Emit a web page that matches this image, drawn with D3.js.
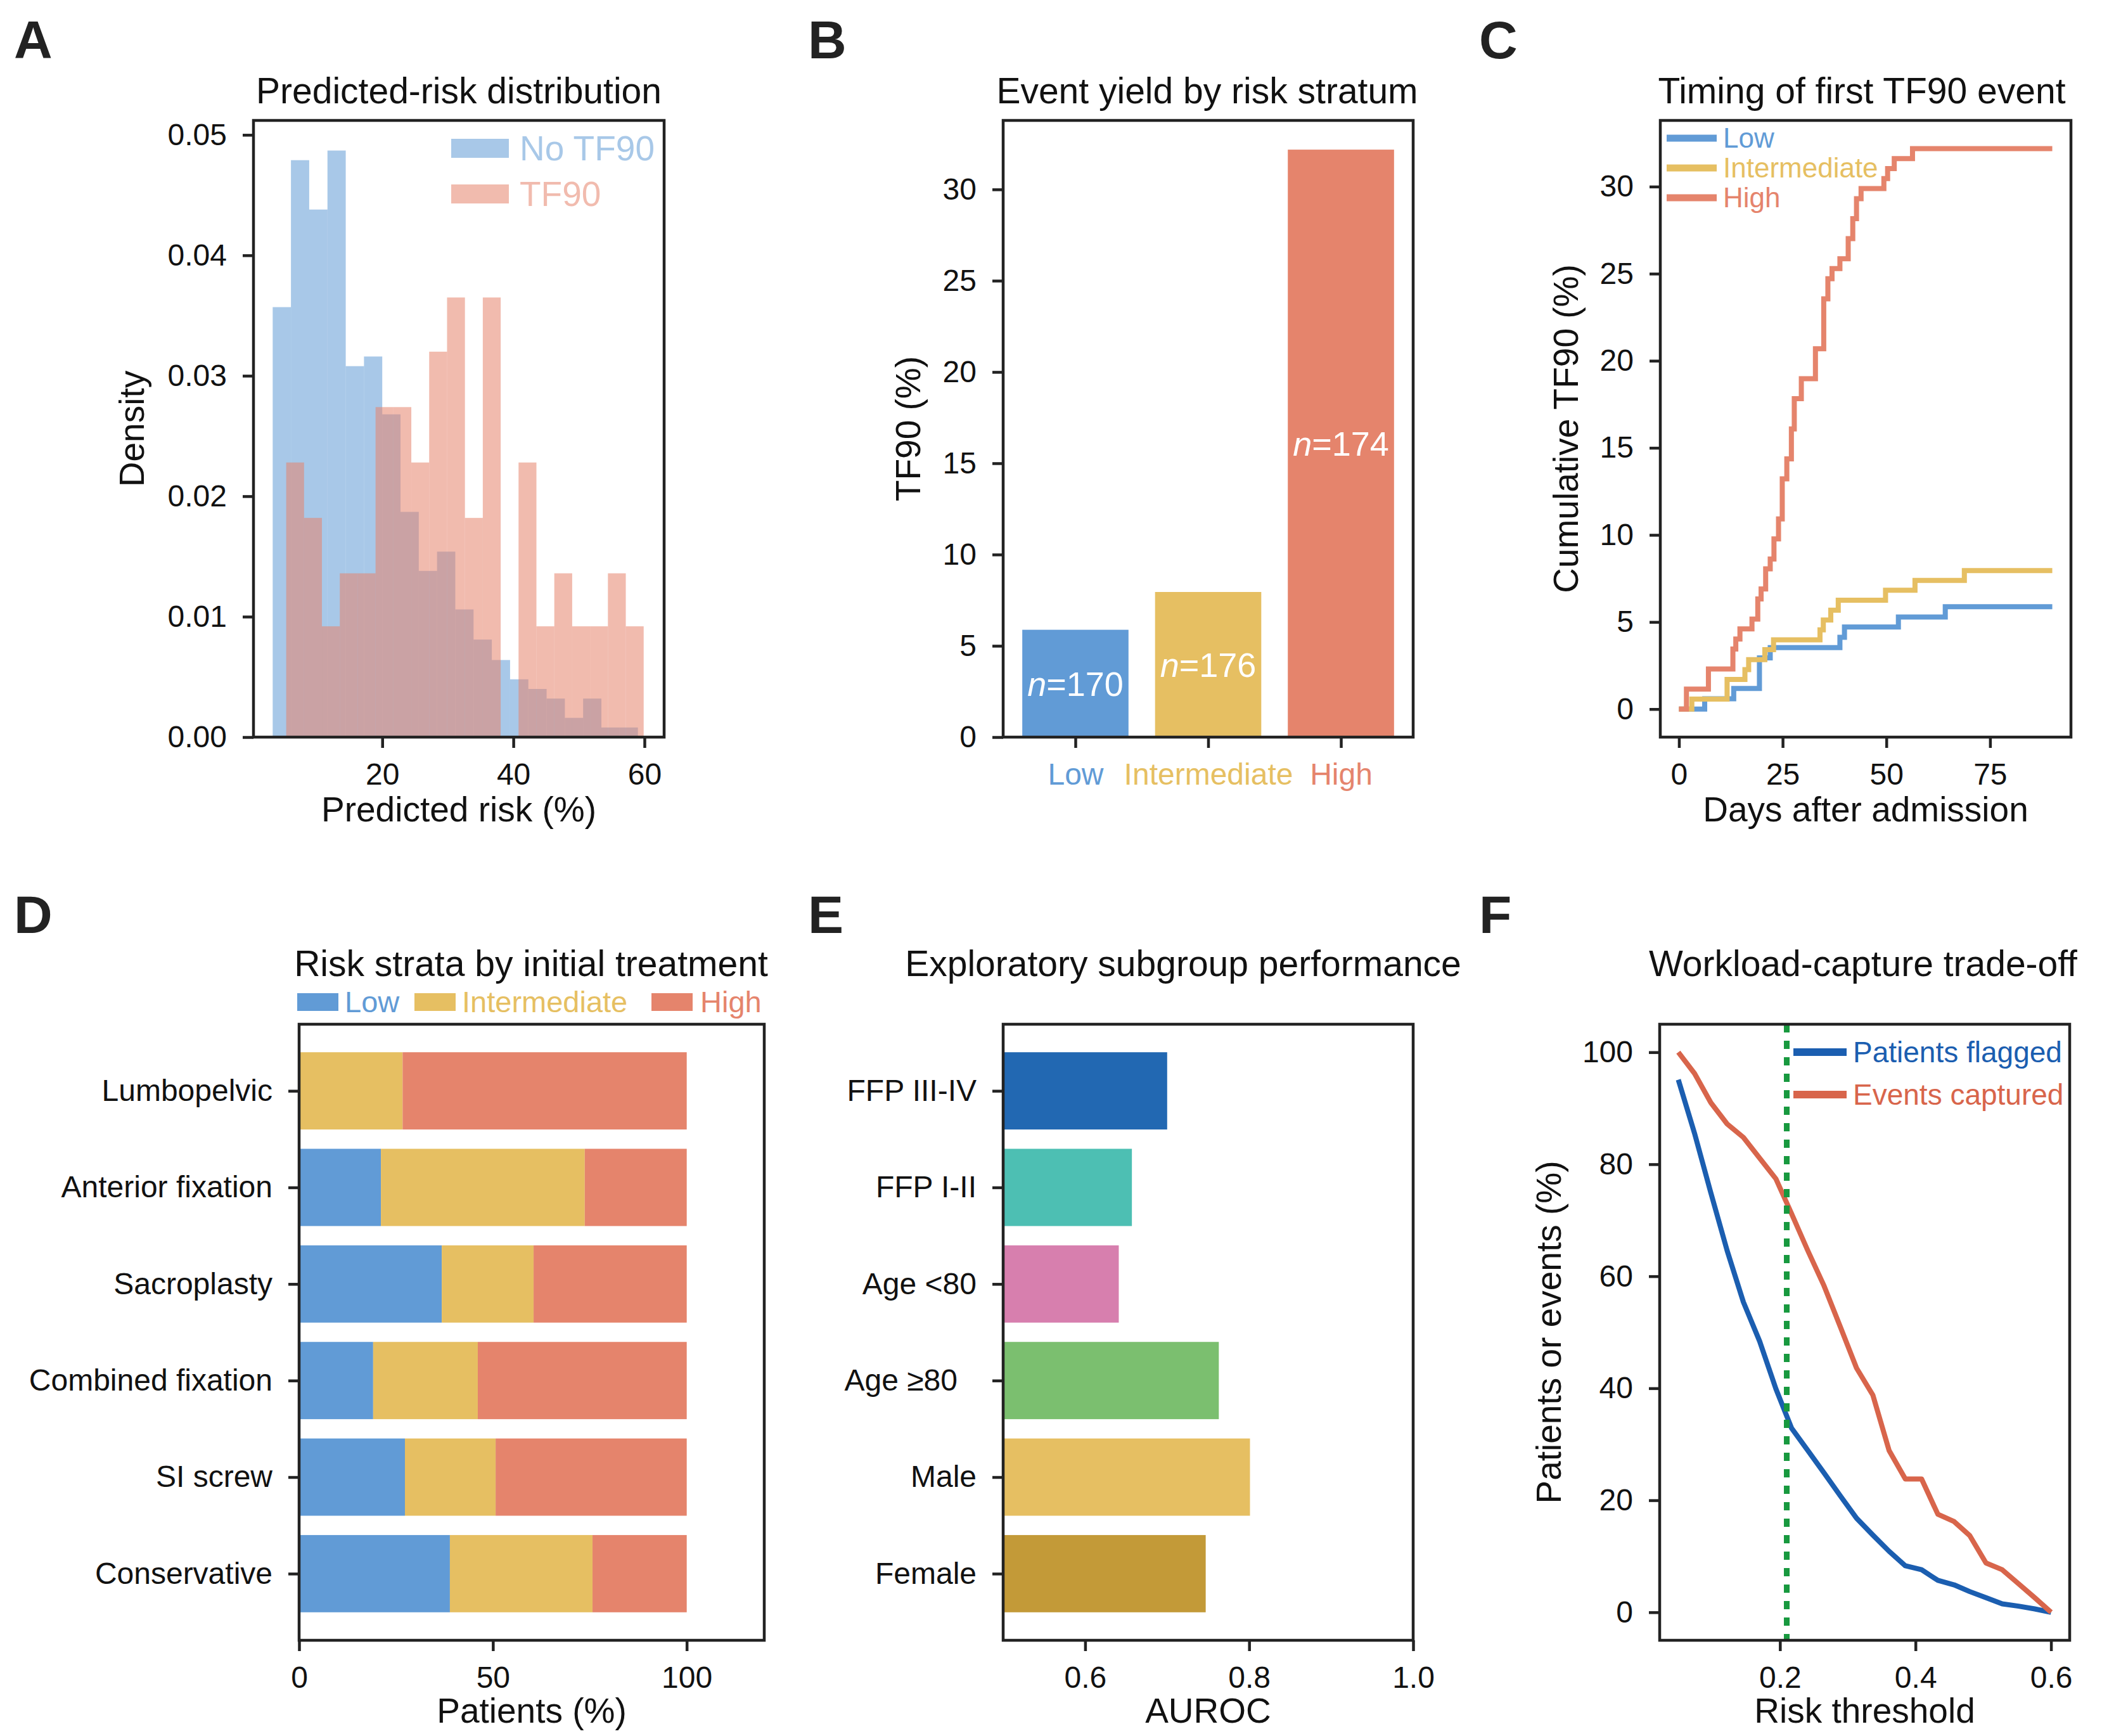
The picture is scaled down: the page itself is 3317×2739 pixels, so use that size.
<!DOCTYPE html>
<html>
<head>
<meta charset="utf-8">
<script src="https://cdn.jsdelivr.net/npm/d3@7"></script>
<style>
  body { margin: 0; background: #fff; }
  svg { font-family: "Liberation Sans", Arial, sans-serif; }
</style>
</head>
<body>
<svg id="fig" width="3317" height="2739"></svg>
<script>
// ---------------- data ----------------
var strata = ['Low', 'Intermediate', 'High'];
var strataColors = ['#619bd6', '#e6bf62', '#e5846c'];

// A: histogram densities (20 bins each)
var noTF90BinStart = 3.28, noTF90BinWidth = 2.786;
var noTF90Density = [0.0357, 0.0479, 0.0438, 0.0487, 0.0308, 0.0316, 0.0268, 0.0187, 0.0138, 0.0154,
                     0.0106, 0.0081, 0.0064, 0.0048, 0.0040, 0.0032, 0.0016, 0.0032, 0.0008, 0.0008];
var tf90BinStart = 5.34, tf90BinWidth = 2.727;
var tf90Density = [0.0228, 0.0182, 0.0092, 0.0136, 0.0136, 0.0274, 0.0274, 0.0228, 0.0320, 0.0365,
                   0.0182, 0.0365, 0.0, 0.0228, 0.0092, 0.0136, 0.0092, 0.0092, 0.0136, 0.0092];

// B: event yield
var tf90Rate = [5.88, 7.95, 32.18];
var strataN = [170, 176, 174];

// C: cumulative TF90 (step curves)
var lowDays = [0, 6.2, 13.2, 19.4, 22.0, 38.8, 39.9, 52.9, 64.2, 90];
var lowCum = [0, 0.59, 1.18, 2.94, 3.53, 4.12, 4.71, 5.29, 5.88, 5.88];
var intDays = [0, 3.1, 11.6, 15.9, 16.8, 20.7, 22.8, 34.0, 34.8, 36.6, 38.4, 49.8, 56.9, 68.8, 90];
var intCum = [0, 0.57, 1.70, 2.27, 2.84, 3.41, 3.98, 4.55, 5.11, 5.68, 6.25, 6.82, 7.39, 7.95, 7.95];
var highDays = [0, 1.8, 7.1, 13.0, 13.7, 14.7, 17.6, 19.0, 19.8, 20.9, 22.0, 22.9, 24.0, 24.9, 26.0,
                27.1, 27.8, 29.5, 32.9, 34.9, 35.9, 36.9, 38.8, 40.8, 41.9, 42.8, 43.9, 49.4, 50.3,
                51.9, 56.3, 90];
var highCum = [0, 1.15, 2.30, 3.45, 4.02, 4.60, 5.17, 6.32, 6.90, 8.05, 8.62, 9.77, 10.92, 13.22,
               14.37, 16.09, 17.82, 18.97, 20.69, 23.56, 24.71, 25.29, 25.86, 27.01, 28.16, 29.31,
               29.89, 30.46, 31.03, 31.61, 32.18, 32.18];

// D: risk strata by treatment (% of patients)
var treatments = ['Lumbopelvic', 'Anterior fixation', 'Sacroplasty', 'Combined fixation', 'SI screw', 'Conservative'];
var lowPct = [0, 21.1, 36.8, 19.1, 27.3, 38.9];
var intPct = [26.7, 52.6, 23.7, 27.0, 23.4, 36.8];
var highPct = [73.3, 26.3, 39.5, 53.9, 49.3, 24.3];

// E: subgroup AUROC
var subgroups = ['FFP III-IV', 'FFP I-II', 'Age <80', 'Age \u226580', 'Male', 'Female'];
var auroc = [0.700, 0.657, 0.641, 0.763, 0.801, 0.747];
var subgroupColors = ['#2268b2', '#4dbfb3', '#d77fae', '#7bbf6f', '#e6bf62', '#c39a38'];

// F: workload vs capture
var thresholds = [0.050, 0.074, 0.098, 0.122, 0.146, 0.170, 0.194, 0.217, 0.241, 0.265, 0.289, 0.313,
                  0.337, 0.361, 0.385, 0.409, 0.433, 0.457, 0.480, 0.504, 0.528, 0.552, 0.576, 0.600];
var flagged = [95.1, 85.5, 74.9, 64.6, 55.4, 48.4, 39.9, 32.9, 28.9, 24.9, 20.8, 16.8,
               13.8, 10.9, 8.3, 7.6, 5.7, 4.9, 3.7, 2.6, 1.5, 1.1, 0.6, 0];
var captured = [100, 96.2, 91.0, 87.2, 84.8, 81.1, 77.4, 71.2, 64.6, 58.3, 51.0, 43.6,
                38.8, 28.9, 23.8, 23.8, 17.5, 16.2, 13.7, 8.8, 7.6, 5.1, 2.6, 0];
var chosenThreshold = 0.21;

// ---------------- helpers ----------------
var FONT = '"Liberation Sans", Arial, sans-serif';
var INK = '#222';
var svg = d3.select('#fig');

function makeAxes(x0, x1, y0, y1) {
  var g = svg.append('g').attr('transform', 'translate(' + x0 + ',' + y0 + ')');
  return { g: g, w: x1 - x0, h: y1 - y0, x0: x0, y0: y0 };
}

function frame(ax) {
  ax.g.append('rect')
    .attr('width', ax.w).attr('height', ax.h)
    .attr('fill', 'none').attr('stroke', INK).attr('stroke-width', 4.5);
}

function styleAxis(sel) {
  sel.select('.domain').remove();
  sel.selectAll('.tick line').attr('stroke', INK).attr('stroke-width', 4.5);
  sel.selectAll('.tick text').attr('fill', '#111')
    .style('font-size', '48px').style('font-family', FONT);
}

function bottomAxis(ax, scale, ticks, fmt) {
  var a = d3.axisBottom(scale).tickValues(ticks).tickSize(17).tickPadding(24);
  if (fmt) a.tickFormat(fmt);
  var s = ax.g.append('g').attr('transform', 'translate(0,' + ax.h + ')').call(a);
  styleAxis(s);
  return s;
}

function leftAxis(ax, scale, ticks, fmt) {
  var a = d3.axisLeft(scale).tickValues(ticks).tickSize(17).tickPadding(25);
  if (fmt) a.tickFormat(fmt);
  var s = ax.g.append('g').call(a);
  styleAxis(s);
  return s;
}

function title(cx, y, txt) {
  svg.append('text').attr('x', cx).attr('y', y).attr('text-anchor', 'middle')
    .style('font-size', '57px').attr('fill', '#111').text(txt);
}

function xLabel(ax, y, txt) {
  svg.append('text').attr('x', ax.x0 + ax.w / 2).attr('y', y).attr('text-anchor', 'middle')
    .style('font-size', '55px').attr('fill', '#111').text(txt);
}

function yLabel(ax, x, txt) {
  svg.append('text')
    .attr('transform', 'translate(' + x + ',' + (ax.y0 + ax.h / 2) + ') rotate(-90)')
    .attr('text-anchor', 'middle').attr('dy', '0.35em')
    .style('font-size', '55px').attr('fill', '#111').text(txt);
}

function letter(x, y, txt) {
  svg.append('text').attr('x', x).attr('y', y)
    .style('font-size', '84px').style('font-weight', 'bold').attr('fill', INK).text(txt);
}

var ROW1 = [190, 1163], ROW2 = [1616, 2588];

// ---------------- A ----------------
(function () {
  var ax = makeAxes(400, 1048, ROW1[0], ROW1[1]);
  var x = d3.scaleLinear().domain([0.35, 63.0]).range([0, ax.w]);
  var y = d3.scaleLinear().domain([0, 0.0512]).range([ax.h, 0]);

  function hist(dens, start, width, color) {
    ax.g.append('g').selectAll('rect').data(dens).join('rect')
      .attr('x', function (d, i) { return x(start + i * width); })
      .attr('width', function (d, i) { return x(start + (i + 1) * width) - x(start + i * width); })
      .attr('y', function (d) { return y(d); })
      .attr('height', function (d) { return y(0) - y(d); })
      .attr('fill', color).attr('fill-opacity', 0.55);
  }
  hist(noTF90Density, noTF90BinStart, noTF90BinWidth, strataColors[0]);
  hist(tf90Density, tf90BinStart, tf90BinWidth, strataColors[2]);

  // legend
  var leg = [['No TF90', strataColors[0]], ['TF90', strataColors[2]]];
  leg.forEach(function (d, i) {
    var cy = 44 + i * 72;
    ax.g.append('rect').attr('x', 312).attr('y', cy - 15).attr('width', 91).attr('height', 30)
      .attr('fill', d[1]).attr('fill-opacity', 0.55);
    ax.g.append('text').attr('x', 420).attr('y', cy).attr('dy', '0.35em')
      .style('font-size', '55px').attr('fill', d[1]).attr('fill-opacity', 0.55).text(d[0]);
  });

  frame(ax);
  bottomAxis(ax, x, [20, 40, 60]);
  leftAxis(ax, y, [0, 0.01, 0.02, 0.03, 0.04, 0.05], d3.format('.2f'));
  title(724, 163, 'Predicted-risk distribution');
  xLabel(ax, 1296, 'Predicted risk (%)');
  yLabel(ax, 208, 'Density');
  letter(22, 92, 'A');
})();

// ---------------- B ----------------
(function () {
  var ax = makeAxes(1583, 2230, ROW1[0], ROW1[1]);
  var x = d3.scaleLinear().domain([-0.544, 2.544]).range([0, ax.w]);
  var y = d3.scaleLinear().domain([0, 33.78]).range([ax.h, 0]);

  ax.g.append('g').selectAll('rect').data(tf90Rate).join('rect')
    .attr('x', function (d, i) { return x(i - 0.4); })
    .attr('width', x(0.4) - x(-0.4))
    .attr('y', function (d) { return y(d); })
    .attr('height', function (d) { return y(0) - y(d); })
    .attr('fill', function (d, i) { return strataColors[i]; });

  var lab = ax.g.append('g').selectAll('text').data(tf90Rate).join('text')
    .attr('x', function (d, i) { return x(i); })
    .attr('y', function (d) { return y(d / 2); })
    .attr('dy', '0.36em').attr('text-anchor', 'middle')
    .style('font-size', '54px').attr('fill', '#fff');
  lab.append('tspan').style('font-style', 'italic').text('n');
  lab.append('tspan').text(function (d, i) { return '=' + strataN[i]; });

  frame(ax);
  var xa = bottomAxis(ax, x, [0, 1, 2], function (d) { return strata[d]; });
  xa.selectAll('.tick text').attr('fill', function (d) { return strataColors[d]; });
  leftAxis(ax, y, [0, 5, 10, 15, 20, 25, 30]);
  title(1905, 163, 'Event yield by risk stratum');
  yLabel(ax, 1433, 'TF90 (%)');
  letter(1275, 92, 'B');
})();

// ---------------- C ----------------
(function () {
  var ax = makeAxes(2620, 3268, ROW1[0], ROW1[1]);
  var x = d3.scaleLinear().domain([-4.5, 94.5]).range([0, ax.w]);
  var y = d3.scaleLinear().domain([-1.61, 33.8]).range([ax.h, 0]);
  var line = d3.line().curve(d3.curveStepAfter)
    .x(function (d) { return x(d[0]); }).y(function (d) { return y(d[1]); });

  var curves = [[lowDays, lowCum], [intDays, intCum], [highDays, highCum]];
  curves.forEach(function (c, k) {
    ax.g.append('path').datum(d3.zip(c[0], c[1]))
      .attr('d', line).attr('fill', 'none')
      .attr('stroke', strataColors[k]).attr('stroke-width', 8);
  });

  strata.forEach(function (s, i) {
    var cy = 28 + i * 47;
    ax.g.append('line').attr('x1', 10).attr('x2', 89).attr('y1', cy).attr('y2', cy)
      .attr('stroke', strataColors[i]).attr('stroke-width', 11);
    ax.g.append('text').attr('x', 99).attr('y', cy).attr('dy', '0.35em')
      .style('font-size', '44px').attr('fill', strataColors[i]).text(s);
  });

  frame(ax);
  bottomAxis(ax, x, [0, 25, 50, 75]);
  leftAxis(ax, y, [0, 5, 10, 15, 20, 25, 30]);
  title(2938, 163, 'Timing of first TF90 event');
  xLabel(ax, 1296, 'Days after admission');
  yLabel(ax, 2471, 'Cumulative TF90 (%)');
  letter(2334, 92, 'C');
})();

// ---------------- D ----------------
(function () {
  var ax = makeAxes(472, 1206, ROW2[0], ROW2[1]);
  var x = d3.scaleLinear().domain([0, 120]).range([0, ax.w]);
  var y = d3.scaleLinear().domain([-0.69, 5.69]).range([0, ax.h]);
  var parts = [lowPct, intPct, highPct];

  parts.forEach(function (arr, k) {
    ax.g.append('g').selectAll('rect').data(arr).join('rect')
      .attr('x', function (d, i) {
        var base = 0;
        for (var j = 0; j < k; j++) base += parts[j][i];
        return x(base);
      })
      .attr('width', function (d) { return x(d) - x(0); })
      .attr('y', function (d, i) { return y(i - 0.4); })
      .attr('height', y(0.4) - y(-0.4))
      .attr('fill', strataColors[k]);
  });

  // legend above the axes
  var legX = [[0, 72], [185, 257], [559, 633]];
  strata.forEach(function (s, i) {
    var cy = 1581 - ax.y0;
    ax.g.append('rect').attr('x', legX[i][0] - 3).attr('y', cy - 14)
      .attr('width', 65).attr('height', 28).attr('fill', strataColors[i]);
    ax.g.append('text').attr('x', legX[i][1]).attr('y', cy).attr('dy', '0.35em')
      .style('font-size', '47px').attr('fill', strataColors[i]).text(s);
  });

  frame(ax);
  bottomAxis(ax, x, [0, 50, 100]);
  leftAxis(ax, y, d3.range(treatments.length), function (d) { return treatments[d]; });
  title(838, 1540, 'Risk strata by initial treatment');
  xLabel(ax, 2718, 'Patients (%)');
  letter(22, 1472, 'D');
})();

// ---------------- E ----------------
(function () {
  var ax = makeAxes(1583, 2230, ROW2[0], ROW2[1]);
  var x = d3.scaleLinear().domain([0.5, 1.0]).range([0, ax.w]);
  var y = d3.scaleLinear().domain([-0.69, 5.69]).range([0, ax.h]);

  ax.g.append('g').selectAll('rect').data(auroc).join('rect')
    .attr('x', x(0.5))
    .attr('width', function (d) { return x(d) - x(0.5); })
    .attr('y', function (d, i) { return y(i - 0.4); })
    .attr('height', y(0.4) - y(-0.4))
    .attr('fill', function (d, i) { return subgroupColors[i]; });

  frame(ax);
  bottomAxis(ax, x, [0.6, 0.8, 1.0], d3.format('.1f'));
  var ya = leftAxis(ax, y, d3.range(subgroups.length), function (d) { return subgroups[d]; });
  ya.selectAll('.tick text').filter(function (d) { return d === 3; }).attr('dx', -30);
  title(1867, 1540, 'Exploratory subgroup performance');
  xLabel(ax, 2718, 'AUROC');
  letter(1275, 1472, 'E');
})();

// ---------------- F ----------------
(function () {
  var ax = makeAxes(2619, 3266, ROW2[0], ROW2[1]);
  var x = d3.scaleLinear().domain([0.0225, 0.6275]).range([0, ax.w]);
  var y = d3.scaleLinear().domain([-5, 105]).range([ax.h, 0]);
  var line = d3.line().x(function (d) { return x(d[0]); }).y(function (d) { return y(d[1]); });

  var fColors = ['#1b5eb0', '#d8654b'];
  ax.g.append('path').datum(d3.zip(thresholds, flagged)).attr('d', line)
    .attr('fill', 'none').attr('stroke', fColors[0]).attr('stroke-width', 8)
    .attr('stroke-linejoin', 'round');
  ax.g.append('path').datum(d3.zip(thresholds, captured)).attr('d', line)
    .attr('fill', 'none').attr('stroke', fColors[1]).attr('stroke-width', 8)
    .attr('stroke-linejoin', 'round');

  ax.g.append('line').attr('x1', x(chosenThreshold)).attr('x2', x(chosenThreshold))
    .attr('y1', 0).attr('y2', ax.h)
    .attr('stroke', '#18993f').attr('stroke-width', 9).attr('stroke-dasharray', '13,13');

  var leg = [['Patients flagged', fColors[0]], ['Events captured', fColors[1]]];
  leg.forEach(function (d, i) {
    var cy = 44 + i * 67;
    ax.g.append('line').attr('x1', 211).attr('x2', 295).attr('y1', cy).attr('y2', cy)
      .attr('stroke', d[1]).attr('stroke-width', 12);
    ax.g.append('text').attr('x', 305).attr('y', cy).attr('dy', '0.35em')
      .style('font-size', '46px').attr('fill', d[1]).text(d[0]);
  });

  frame(ax);
  bottomAxis(ax, x, [0.2, 0.4, 0.6], d3.format('.1f'));
  leftAxis(ax, y, [0, 20, 40, 60, 80, 100]);
  title(2940, 1540, 'Workload-capture trade-off');
  xLabel(ax, 2718, 'Risk threshold');
  yLabel(ax, 2444, 'Patients or events (%)');
  letter(2334, 1472, 'F');
})();
</script>
</body>
</html>
